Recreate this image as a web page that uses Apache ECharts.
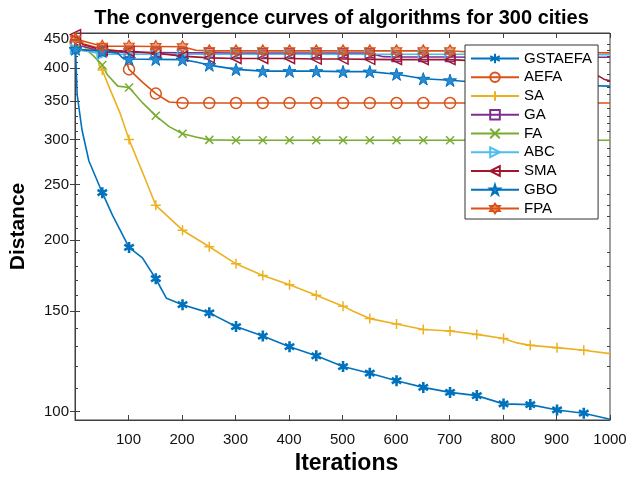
<!DOCTYPE html>
<html>
<head>
<meta charset="utf-8">
<script src="https://cdn.jsdelivr.net/npm/echarts@6/dist/echarts.min.js"></script>
<style>
  html, body { margin: 0; padding: 0; background: #fff; }
  #chart { width: 630px; height: 480px; }
</style>
</head>
<body>
<div id="chart"></div>
<script>
// Tick labels
const xTicks = [100, 200, 300, 400, 500, 600, 700, 800, 900, 1000];
const yTicks = [100, 150, 200, 250, 300, 350, 400, 450];
const yMinorTicks = [110, 120, 130, 140, 160, 170, 180, 190, 210, 220, 230, 240,
  260, 270, 280, 290, 310, 320, 330, 340, 360, 370, 380, 390, 410, 420, 430, 440];

// Best distance per iteration: [iteration, distance]
const gstaefa = [[1,432],[4,360],[13,312],[26,275],[51,242],[70,221],[101,194],[126,186],[151,171],[171,158],
  [201,154],[251,149],[301,141],[351,135.7],[401,130],[451,125.3],[501,120],[551,116.8],[601,113.3],
  [651,110.3],[701,108.1],[751,106.7],[801,103.2],[851,102.9],[901,100.7],[951,99.4],[1000,97]];
const aefa = [[1,445],[51,432],[90,428],[95,415],[101,398],[126,378],[151,361],[176,349],[201,347.5],
  [251,347.5],[301,347.5],[351,347.5],[401,347.5],[451,347.5],[501,347.5],[551,347.5],[601,347.5],
  [651,347.5],[701,347.5],[751,347.5],[801,347.5],[851,347.5],[901,347.5],[951,347.5],[1000,347.5]];
const sa = [[1,448],[15,446],[20,432],[40,430],[45,405],[51,397],[63,372],[84,334],[101,300],[126,263],
  [151,230],[201,208],[251,194.6],[301,181.6],[351,173.3],[401,166.9],[451,160],[501,153.1],[520,150],
  [551,145.6],[601,142.5],[651,139.3],[701,138.5],[751,136.6],[801,134.4],[826,132],[851,130.7],
  [901,129.5],[951,128.1],[1000,126.4]];
const ga = [[1,440],[51,428],[101,426],[151,426],[201,425.5],[251,425.5],[301,425],[351,425],[401,425],
  [451,425],[501,425],[551,425],[576,419],[601,418.5],[651,418.5],[701,418.5],[751,418],[801,418],
  [851,418],[901,418],[951,418],[1000,418]];
const fa = [[1,432],[25,428],[35,420],[51,405],[60,390],[80,372],[101,370],[126,348],[151,330],[176,316],
  [201,307],[226,303],[251,299.5],[301,299],[351,299],[401,299],[451,299],[501,299],[551,299],[601,299],
  [651,299],[701,299],[751,299],[801,299],[851,299],[901,299],[951,299],[1000,299]];
const abc = [[1,432],[26,428],[51,423],[101,423],[151,423],[201,423],[251,423],[301,423],[351,423],
  [401,423],[451,423],[501,423],[551,423],[601,423],[651,423],[701,423],[751,423],[801,422.5],
  [851,422.5],[901,422.5],[951,422.5],[1000,422.5]];
const sma = [[1,458],[15,440],[51,430],[101,428],[151,425],[201,420],[251,417],[301,416],[351,416],
  [401,416],[451,415],[501,415],[551,414.5],[601,414],[651,414],[701,414],[751,412],[801,405],[851,398],
  [901,392],[951,388],[980,387],[990,382],[1000,380]];
const gbo = [[1,432],[51,428],[80,425],[90,416],[101,415],[151,414.5],[201,414],[226,410],[251,405],
  [301,398],[351,395.3],[401,395.3],[451,395.3],[501,394.5],[551,394.5],[601,390.4],[651,383.2],
  [701,380.9],[751,378],[801,376],[851,375],[901,374],[951,373],[1000,372]];
const fpa = [[1,450],[51,437],[101,437],[151,436.5],[201,436],[226,430],[251,429],[301,429],[351,429],
  [401,429],[451,429],[501,429],[551,429],[601,429],[651,429],[701,429],[751,426],[801,426],[851,426],
  [901,426],[951,426],[1000,425.5]];

// Marker shapes
const SYM = {
  asterisk: 'path://M10,0L10,20M1.34,5L18.66,15M1.34,15L18.66,5',
  plus: 'path://M10,0L10,20M0,10L20,10',
  cross: 'path://M0,0L20,20M0,20L20,0',
  triRight: 'path://M0,0L20,10L0,20Z',
  triLeft: 'path://M20,0L0,10L20,20Z',
  pentagram: 'path://M10,0L12.245,6.91L19.511,6.91L13.633,11.18L15.878,18.09L10,13.82L4.122,18.09L6.367,11.18L0.489,6.91L7.755,6.91Z',
  hexagram: 'path://M10,0L12.887,5L18.66,5L15.77,10L18.66,15L12.887,15L10,20L7.113,15L1.34,15L4.23,10L1.34,5L7.113,5Z'
};

// Markers every 50 iterations starting at iteration 1
function withMarkers(points) {
  return points.map(p => ((p[0] - 1) % 50 === 0) ? p : { value: p, symbol: 'none' });
}

function makeSeries(name, points, color, symbol, size, fill, bw) {
  return {
    name: name,
    type: 'line',
    data: withMarkers(points),
    symbol: symbol,
    symbolSize: size,
    symbolKeepAspect: true,
    showAllSymbol: true,
    clip: false,
    lineStyle: { color: color, width: 1.6 },
    itemStyle: { color: fill, borderColor: color, borderWidth: bw },
    emphasis: { disabled: true },
    z: 2
  };
}

const none = 'rgba(0,0,0,0)';
const series = [
  makeSeries('GSTAEFA', gstaefa, '#0072BD', SYM.asterisk, 11, none, 2.6),
  makeSeries('AEFA', aefa, '#D95319', 'circle', 11, none, 1.5),
  makeSeries('SA', sa, '#EDB120', SYM.plus, 10, none, 1.5),
  makeSeries('GA', ga, '#7E2F8E', 'rect', 9, none, 1.5),
  makeSeries('FA', fa, '#77AC30', SYM.cross, 8, none, 1.5),
  makeSeries('ABC', abc, '#4DBEEE', SYM.triRight, 10, none, 1.5),
  makeSeries('SMA', sma, '#A2142F', SYM.triLeft, 10, none, 1.5),
  makeSeries('GBO', gbo, '#0072BD', SYM.pentagram, 13, '#2b8ad6', 1),
  makeSeries('FPA', fpa, '#D95319', SYM.hexagram, 12, 'rgba(217,83,25,0.55)', 1.2)
];

const axisColor = '#404040';
const font = '"Liberation Sans", Arial, Helvetica, sans-serif';
const plain = v => String(v);

const option = {
  backgroundColor: '#fff',
  animation: false,
  textStyle: { fontFamily: font },
  title: {
    text: 'The convergence curves of algorithms for 300 cities',
    left: 341.5,
    textAlign: 'center',
    top: 8,
    padding: 0,
    textStyle: { fontFamily: font, fontSize: 20, fontWeight: 'bold', color: '#000' }
  },
  legend: {
    orient: 'vertical',
    left: 465,
    top: 45,
    itemWidth: 48,
    itemHeight: 12,
    itemGap: 3.75,
    padding: [6, 6, 3, 5],
    backgroundColor: '#fff',
    borderColor: '#333',
    borderWidth: 1,
    textStyle: { fontFamily: font, fontSize: 15, color: '#000' },
    z: 10
  },
  grid: {
    left: 73, right: 20, top: 33, bottom: 57,
    show: true, borderColor: axisColor, borderWidth: 1, backgroundColor: 'transparent'
  },
  xAxis: [
    {
      type: 'value', min: 0, max: 1000, position: 'bottom',
      name: 'Iterations', nameLocation: 'middle', nameGap: 32,
      nameTextStyle: { fontFamily: font, fontSize: 23, fontWeight: 'bold', color: '#000', padding: [0, 0, 0, 8] },
      axisLine: { show: true, lineStyle: { color: axisColor } },
      axisTick: { inside: true, length: 5, customValues: xTicks, lineStyle: { color: axisColor } },
      axisLabel: { customValues: xTicks, formatter: plain, fontSize: 15, color: '#111', margin: 12, fontFamily: font },
      splitLine: { show: false }
    },
    {
      type: 'value', min: 0, max: 1000, position: 'top',
      axisLine: { show: true, lineStyle: { color: axisColor } },
      axisTick: { inside: true, length: 5, customValues: xTicks, lineStyle: { color: axisColor } },
      axisLabel: { show: false },
      splitLine: { show: false }
    }
  ],
  yAxis: [
    {
      type: 'log', logBase: 10, min: 96.7, max: 461, position: 'left',
      name: 'Distance', nameLocation: 'middle', nameGap: 46, nameRotate: 90,
      nameTextStyle: { fontFamily: font, fontSize: 21, fontWeight: 'bold', color: '#000' },
      axisLine: { show: true, lineStyle: { color: axisColor } },
      axisTick: { inside: true, length: 5, customValues: yTicks, lineStyle: { color: axisColor } },
      axisLabel: { customValues: yTicks, formatter: plain, fontSize: 15, color: '#111', margin: 6,
        fontFamily: font, padding: [4, 0, 0, 0] },
      splitLine: { show: false }
    },
    {
      type: 'log', logBase: 10, min: 96.7, max: 461, position: 'right',
      axisLine: { show: true, lineStyle: { color: axisColor } },
      axisTick: { inside: true, length: 5, customValues: yTicks, lineStyle: { color: axisColor } },
      axisLabel: { show: false },
      splitLine: { show: false }
    },
    {
      type: 'log', logBase: 10, min: 96.7, max: 461, position: 'left',
      axisLine: { show: false },
      axisTick: { inside: true, length: 3, customValues: yMinorTicks, lineStyle: { color: axisColor } },
      axisLabel: { show: false },
      splitLine: { show: false }
    },
    {
      type: 'log', logBase: 10, min: 96.7, max: 461, position: 'right',
      axisLine: { show: false },
      axisTick: { inside: true, length: 3, customValues: yMinorTicks, lineStyle: { color: axisColor } },
      axisLabel: { show: false },
      splitLine: { show: false }
    }
  ],
  series: series
};

const chart = echarts.init(document.getElementById('chart'), null, { renderer: 'canvas' });
chart.setOption(option);
</script>
</body>
</html>
